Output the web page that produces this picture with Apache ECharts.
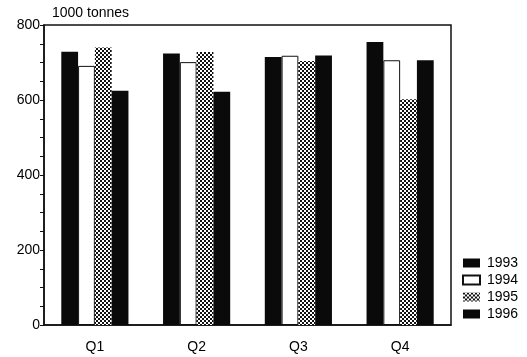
<!DOCTYPE html>
<html>
<head>
<meta charset="utf-8">
<script src="https://cdn.jsdelivr.net/npm/echarts@6/dist/echarts.min.js"></script>
<style>
html,body{margin:0;padding:0;background:#fff;}
#chart{width:527px;height:357px;}
</style>
</head>
<body>
<div id="chart"></div>
<script>
const categories = ['Q1', 'Q2', 'Q3', 'Q4'];
const seriesNames = ['1993', '1994', '1995', '1996'];
const values1993 = [729, 724, 715, 755];
const values1994 = [691, 701, 718, 706];
const values1995 = [740, 728, 704, 602];
const values1996 = [625, 622, 719, 706];
const yTicks = [0, 200, 400, 600, 800];
const yTitle = '1000 tonnes';

function checker() {
  const c = document.createElement('canvas');
  c.width = 4; c.height = 4;
  const g = c.getContext('2d');
  g.fillStyle = '#fff';
  g.fillRect(0, 0, 4, 4);
  g.fillStyle = '#111';
  g.fillRect(0, 0, 2, 2);
  g.fillRect(2, 2, 2, 2);
  return c;
}
const pattern = { image: checker(), repeat: 'repeat' };

const font = 'Liberation Sans, Arial, sans-serif';
const chart = echarts.init(document.getElementById('chart'), null, { renderer: 'canvas' });

const styles = [
  { color: '#0a0a0a' },
  { color: '#ffffff', borderColor: '#111', borderWidth: 1 },
  { color: pattern },
  { color: '#0a0a0a' }
];
const allValues = [values1993, values1994, values1995, values1996];

chart.setOption({
  animation: false,
  backgroundColor: '#fff',
  grid: {
    left: 44, right: 76, top: 25, bottom: 32,
    show: true, borderColor: '#111', borderWidth: 1.5, backgroundColor: 'transparent'
  },
  legend: {
    orient: 'vertical',
    left: 462, top: 256,
    padding: 0,
    itemWidth: 17, itemHeight: 9, itemGap: 3,
    icon: 'rect',
    textStyle: { fontFamily: font, fontSize: 14, color: '#000', padding: [0, 0, 0, 2] },
    data: seriesNames
  },
  xAxis: {
    type: 'category',
    data: categories,
    axisLine: { lineStyle: { color: '#111', width: 1.5 } },
    axisTick: { show: false },
    axisLabel: { fontFamily: font, fontSize: 14, color: '#000', margin: 15 }
  },
  yAxis: {
    type: 'value',
    min: yTicks[0], max: yTicks[yTicks.length - 1], interval: 200,
    name: yTitle,
    nameLocation: 'end',
    nameGap: 5,
    nameTextStyle: { fontFamily: font, fontSize: 14, color: '#000', align: 'left', padding: [0, 0, 0, 8] },
    axisLine: { show: true, lineStyle: { color: '#111', width: 1.5 } },
    axisTick: { show: true, length: 4, lineStyle: { color: '#111' } },
    minorTick: { show: true, splitNumber: 4, length: 4, lineStyle: { color: '#111' } },
    splitLine: { show: false },
    axisLabel: { fontFamily: font, fontSize: 14, color: '#000', margin: 4 }
  },
  series: seriesNames.map((n, i) => ({
    name: n,
    type: 'bar',
    data: allValues[i],
    barGap: '0%',
    barCategoryGap: '34%',
    itemStyle: styles[i]
  }))
});
</script>
</body>
</html>
